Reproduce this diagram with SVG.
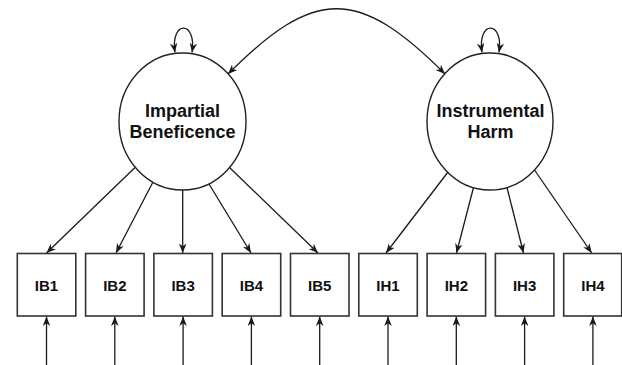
<svg xmlns="http://www.w3.org/2000/svg" width="622" height="365" viewBox="0 0 622 365">
<defs>
<marker id="ah" viewBox="0 0 10 8" refX="10" refY="4" markerWidth="9.5" markerHeight="7.6" markerUnits="userSpaceOnUse" orient="auto-start-reverse">
<path d="M0,0 L10,4 L0,8 L3,4 z" fill="#1a1a1a"/>
</marker>
<style>
.lat{fill:#fff;stroke:#222;stroke-width:1.4}
.obs{fill:#fff;stroke:#333;stroke-width:1.6}
.lt{font-family:"Liberation Sans",Arial,sans-serif;font-weight:bold;font-size:18px;fill:#111;text-anchor:middle}
.ot{font-family:"Liberation Sans",Arial,sans-serif;font-weight:bold;font-size:15px;fill:#111;text-anchor:middle}
.c{fill:none;stroke:#1a1a1a;stroke-width:1.3;marker-end:url(#ah)}
.b{marker-start:url(#ah)}
</style>
</defs>
<rect width="622" height="365" fill="#fff"/>
<g id="connectors">
<path class="c b" d="M228,74 C315,-13 358,-13 445,74"/>
<path class="c b" d="M175,52.5 C170,20 197,20 192,52.5"/>
<path class="c b" d="M482,52.5 C477,20 504,20 499,52.5"/>
<path class="c" d="M135,167.5 L46.5,253"/>
<path class="c" d="M153,182 L116,253"/>
<path class="c" d="M182.7,190 L182.7,253"/>
<path class="c" d="M209,184 L251,253"/>
<path class="c" d="M229.5,167.5 L318,253"/>
<path class="c" d="M448,172 L386,253"/>
<path class="c" d="M473.5,187.5 L456.5,253"/>
<path class="c" d="M507,187.5 L523.5,253"/>
<path class="c" d="M534.5,170 L591.7,253"/>
<path class="c" d="M46.5,365 L46.5,316.5"/>
<path class="c" d="M114.8,365 L114.8,316.5"/>
<path class="c" d="M183.1,365 L183.1,316.5"/>
<path class="c" d="M251.4,365 L251.4,316.5"/>
<path class="c" d="M319.7,365 L319.7,316.5"/>
<path class="c" d="M388,365 L388,316.5"/>
<path class="c" d="M456.3,365 L456.3,316.5"/>
<path class="c" d="M524.6,365 L524.6,316.5"/>
<path class="c" d="M592.9,365 L592.9,316.5"/>
</g>
<g id="IB">
<ellipse class="lat" cx="182.5" cy="121.5" rx="63.5" ry="68.5"/>
<text class="lt" x="182.5" y="116.5">Impartial</text>
<text class="lt" x="182.5" y="137.5">Beneficence</text>
</g>
<g id="IH">
<ellipse class="lat" cx="490" cy="121.5" rx="63" ry="68.5"/>
<text class="lt" x="490.5" y="116.5">Instrumental</text>
<text class="lt" x="490.5" y="137.5">Harm</text>
</g>
<g id="IB1"><rect class="obs" x="17.3" y="253.5" width="58.5" height="62.5"/><text class="ot" x="46.5" y="291">IB1</text></g>
<g id="IB2"><rect class="obs" x="85.6" y="253.5" width="58.5" height="62.5"/><text class="ot" x="114.8" y="291">IB2</text></g>
<g id="IB3"><rect class="obs" x="153.9" y="253.5" width="58.5" height="62.5"/><text class="ot" x="183.1" y="291">IB3</text></g>
<g id="IB4"><rect class="obs" x="222.2" y="253.5" width="58.5" height="62.5"/><text class="ot" x="251.4" y="291">IB4</text></g>
<g id="IB5"><rect class="obs" x="290.5" y="253.5" width="58.5" height="62.5"/><text class="ot" x="319.7" y="291">IB5</text></g>
<g id="IH1"><rect class="obs" x="358.8" y="253.5" width="58.5" height="62.5"/><text class="ot" x="388" y="291">IH1</text></g>
<g id="IH2"><rect class="obs" x="427.1" y="253.5" width="58.5" height="62.5"/><text class="ot" x="456.3" y="291">IH2</text></g>
<g id="IH3"><rect class="obs" x="495.4" y="253.5" width="58.5" height="62.5"/><text class="ot" x="524.6" y="291">IH3</text></g>
<g id="IH4"><rect class="obs" x="563.7" y="253.5" width="58" height="62.5"/><text class="ot" x="592.9" y="291">IH4</text></g>
</svg>
